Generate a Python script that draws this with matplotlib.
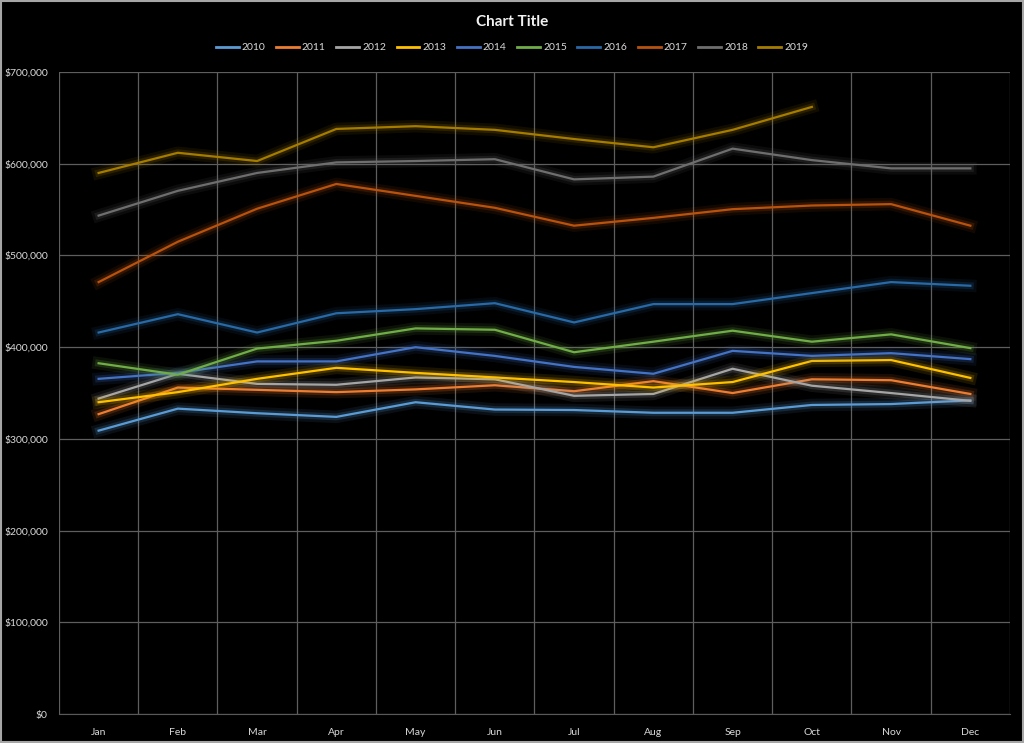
import matplotlib
matplotlib.use('Agg')
import matplotlib.pyplot as pyplot
import matplotlib.patheffects as patheffects
from matplotlib.ticker import FuncFormatter, MultipleLocator

months = ['Jan', 'Feb', 'Mar', 'Apr', 'May', 'Jun', 'Jul', 'Aug', 'Sep', 'Oct', 'Nov', 'Dec']

s2010 = [309000, 333000, 328000, 324000, 340000, 332000, 331500, 328500, 328500, 337000, 338000, 342000]
s2011 = [327000, 356000, 353500, 351000, 354000, 358500, 352000, 363000, 350000, 365000, 364000, 349000]
s2012 = [344000, 371000, 360000, 359000, 367000, 365000, 347000, 349000, 376500, 358000, 350000, 341500]
s2013 = [340000, 351000, 365500, 377500, 372000, 367000, 362000, 356000, 362000, 385000, 386000, 366500]
s2014 = [365500, 372000, 384500, 384500, 400000, 390500, 378500, 371000, 396000, 390500, 393500, 387000]
s2015 = [382500, 370000, 398500, 407000, 420500, 419000, 394500, 406000, 418000, 406000, 414000, 399000]
s2016 = [416000, 436000, 416000, 437000, 441500, 448000, 427000, 447000, 447000, 459000, 471000, 467000]
s2017 = [471000, 515000, 551000, 578000, 565000, 552000, 532500, 541000, 550500, 554500, 556000, 532500]
s2018 = [543500, 570500, 590000, 601500, 603000, 605000, 583000, 586000, 616500, 604000, 595000, 595000]
s2019 = [590000, 612000, 603000, 638000, 641000, 637000, 627000, 618000, 637000, 662000]

series = [
    ('2010', s2010, '#5B9BD5'),
    ('2011', s2011, '#ED7D31'),
    ('2012', s2012, '#A5A5A5'),
    ('2013', s2013, '#FFC000'),
    ('2014', s2014, '#4472C4'),
    ('2015', s2015, '#70AD47'),
    ('2016', s2016, '#2869A6'),
    ('2017', s2017, '#B9520F'),
    ('2018', s2018, '#6E6E6E'),
    ('2019', s2019, '#A57C00'),
]

pyplot.rcParams['font.family'] = ['Lato', 'DejaVu Sans']

fig = pyplot.figure(figsize=(10.24, 7.43), dpi=100, facecolor='black')
fig.patches.append(pyplot.Rectangle((0.001, 0.001), 0.998, 0.998, transform=fig.transFigure,
                                    fill=False, edgecolor='#A6A6A6', linewidth=1.5))
ax = fig.add_axes([0.0576, 0.039, 0.9287, 0.864], facecolor='black')

for name, values, color in series:
    ax.plot(range(len(values)), values, color=color, linewidth=1.6, label=name,
            solid_joinstyle='round',
            path_effects=[
                patheffects.Stroke(linewidth=9, foreground=color, alpha=0.10),
                patheffects.Stroke(linewidth=5, foreground=color, alpha=0.18),
                patheffects.Normal(),
            ])

ax.set_xlim(-0.5, 11.5)
ax.set_ylim(0, 700000)
ax.set_xticks(range(12))
ax.set_xticklabels(months)
ax.set_xticks([i - 0.5 for i in range(13)], minor=True)
ax.yaxis.set_major_locator(MultipleLocator(100000))
ax.yaxis.set_major_formatter(FuncFormatter(lambda v, p: f'${v:,.0f}'))
ax.grid(axis='y', which='major', color='#5E5E5E', linewidth=0.9)
ax.grid(axis='x', which='minor', color='#5E5E5E', linewidth=0.9)
ax.set_axisbelow(True)
for side in ['top', 'right', 'left']:
    ax.spines[side].set_visible(False)
ax.spines['bottom'].set_color('#595959')
ax.tick_params(which='both', length=0, colors='#D9D9D9', labelsize=7.5)
ax.tick_params(axis='x', pad=10)
ax.tick_params(axis='y', pad=8)

fig.text(0.5, 0.971, 'Chart Title', ha='center', va='center', color='#F2F2F2',
         fontsize=11, fontweight='bold')
leg = fig.legend(loc='center', bbox_to_anchor=(0.5, 0.936), ncol=10, frameon=False,
                 fontsize=7.5, handlelength=2.2, handletextpad=0.3, columnspacing=1.0)
for text in leg.get_texts():
    text.set_color('#D9D9D9')
for line in leg.get_lines():
    line.set_path_effects([])
    line.set_linewidth(2)

fig.savefig('out.png', dpi=100, facecolor='black')
